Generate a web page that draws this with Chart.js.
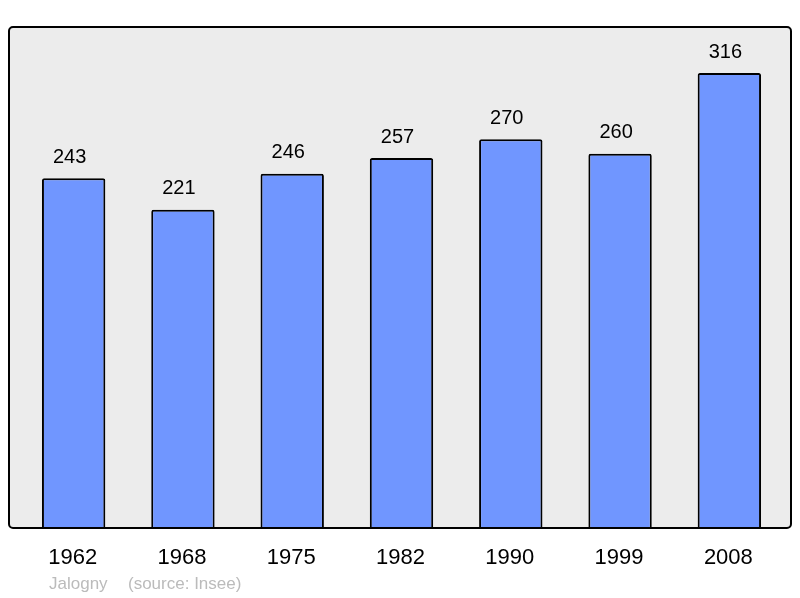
<!DOCTYPE html>
<html>
<head>
<meta charset="utf-8">
<script src="https://cdn.jsdelivr.net/npm/chart.js@4/dist/chart.umd.min.js"></script>
<style>
  body { margin: 0; background: #ffffff; }
  #wrap { width: 800px; height: 598px; }
</style>
</head>
<body>
<div id="wrap"><canvas id="chart" width="800" height="598"></canvas></div>
<script>
const years = ["1962", "1968", "1975", "1982", "1990", "1999", "2008"];
const population = [243, 221, 246, 257, 270, 260, 316];
const commune = "Jalogny";
const source = "(source: Insee)";

// cadre gris, étiquettes de valeurs, années et pied de page
const decor = {
    id: "decor",
    beforeDraw(chart) {
        const ctx = chart.ctx;
        const a = chart.chartArea;
        ctx.save();
        ctx.fillStyle = "#ececec";
        ctx.beginPath();
        ctx.roundRect(9, a.top, 782, a.bottom - a.top, 4);
        ctx.fill();
        ctx.restore();
    },
    afterDatasetsDraw(chart) {
        const ctx = chart.ctx;
        const a = chart.chartArea;
        ctx.save();
        ctx.strokeStyle = "#000000";
        ctx.lineWidth = 2;
        ctx.beginPath();
        ctx.roundRect(9, a.top, 782, a.bottom - a.top, 4);
        ctx.stroke();

        const meta = chart.getDatasetMeta(0);
        ctx.fillStyle = "#000000";
        ctx.textAlign = "center";
        ctx.textBaseline = "middle";
        ctx.font = "20px 'Liberation Sans', Arial, sans-serif";
        meta.data.forEach((bar, i) => {
            ctx.fillText(String(population[i]), bar.x - 4, bar.y - 21);
        });

        ctx.font = "22px 'Liberation Sans', Arial, sans-serif";
        meta.data.forEach((bar, i) => {
            ctx.fillText(years[i], bar.x - 1, 558);
        });

        ctx.fillStyle = "#bbbbbb";
        ctx.textAlign = "left";
        ctx.font = "17px 'Liberation Sans', Arial, sans-serif";
        ctx.fillText(commune, 49, 584);
        ctx.fillText(source, 128, 584);
        ctx.restore();
    }
};

new Chart(document.getElementById("chart"), {
    type: "bar",
    data: {
        labels: years,
        datasets: [{
            data: population,
            backgroundColor: "#7096ff",
            borderColor: "#000000",
            borderWidth: 2,
            borderRadius: 2,
            borderSkipped: "bottom",
            barPercentage: 0.58,
            categoryPercentage: 1
        }]
    },
    options: {
        responsive: false,
        animation: false,
        layout: { padding: { left: 19, right: 16, top: 27, bottom: 70 } },
        plugins: { legend: { display: false }, tooltip: { enabled: false } },
        scales: {
            x: { display: false },
            y: { display: false, min: 0, max: 348 }
        }
    },
    plugins: [decor]
});
</script>
</body>
</html>
